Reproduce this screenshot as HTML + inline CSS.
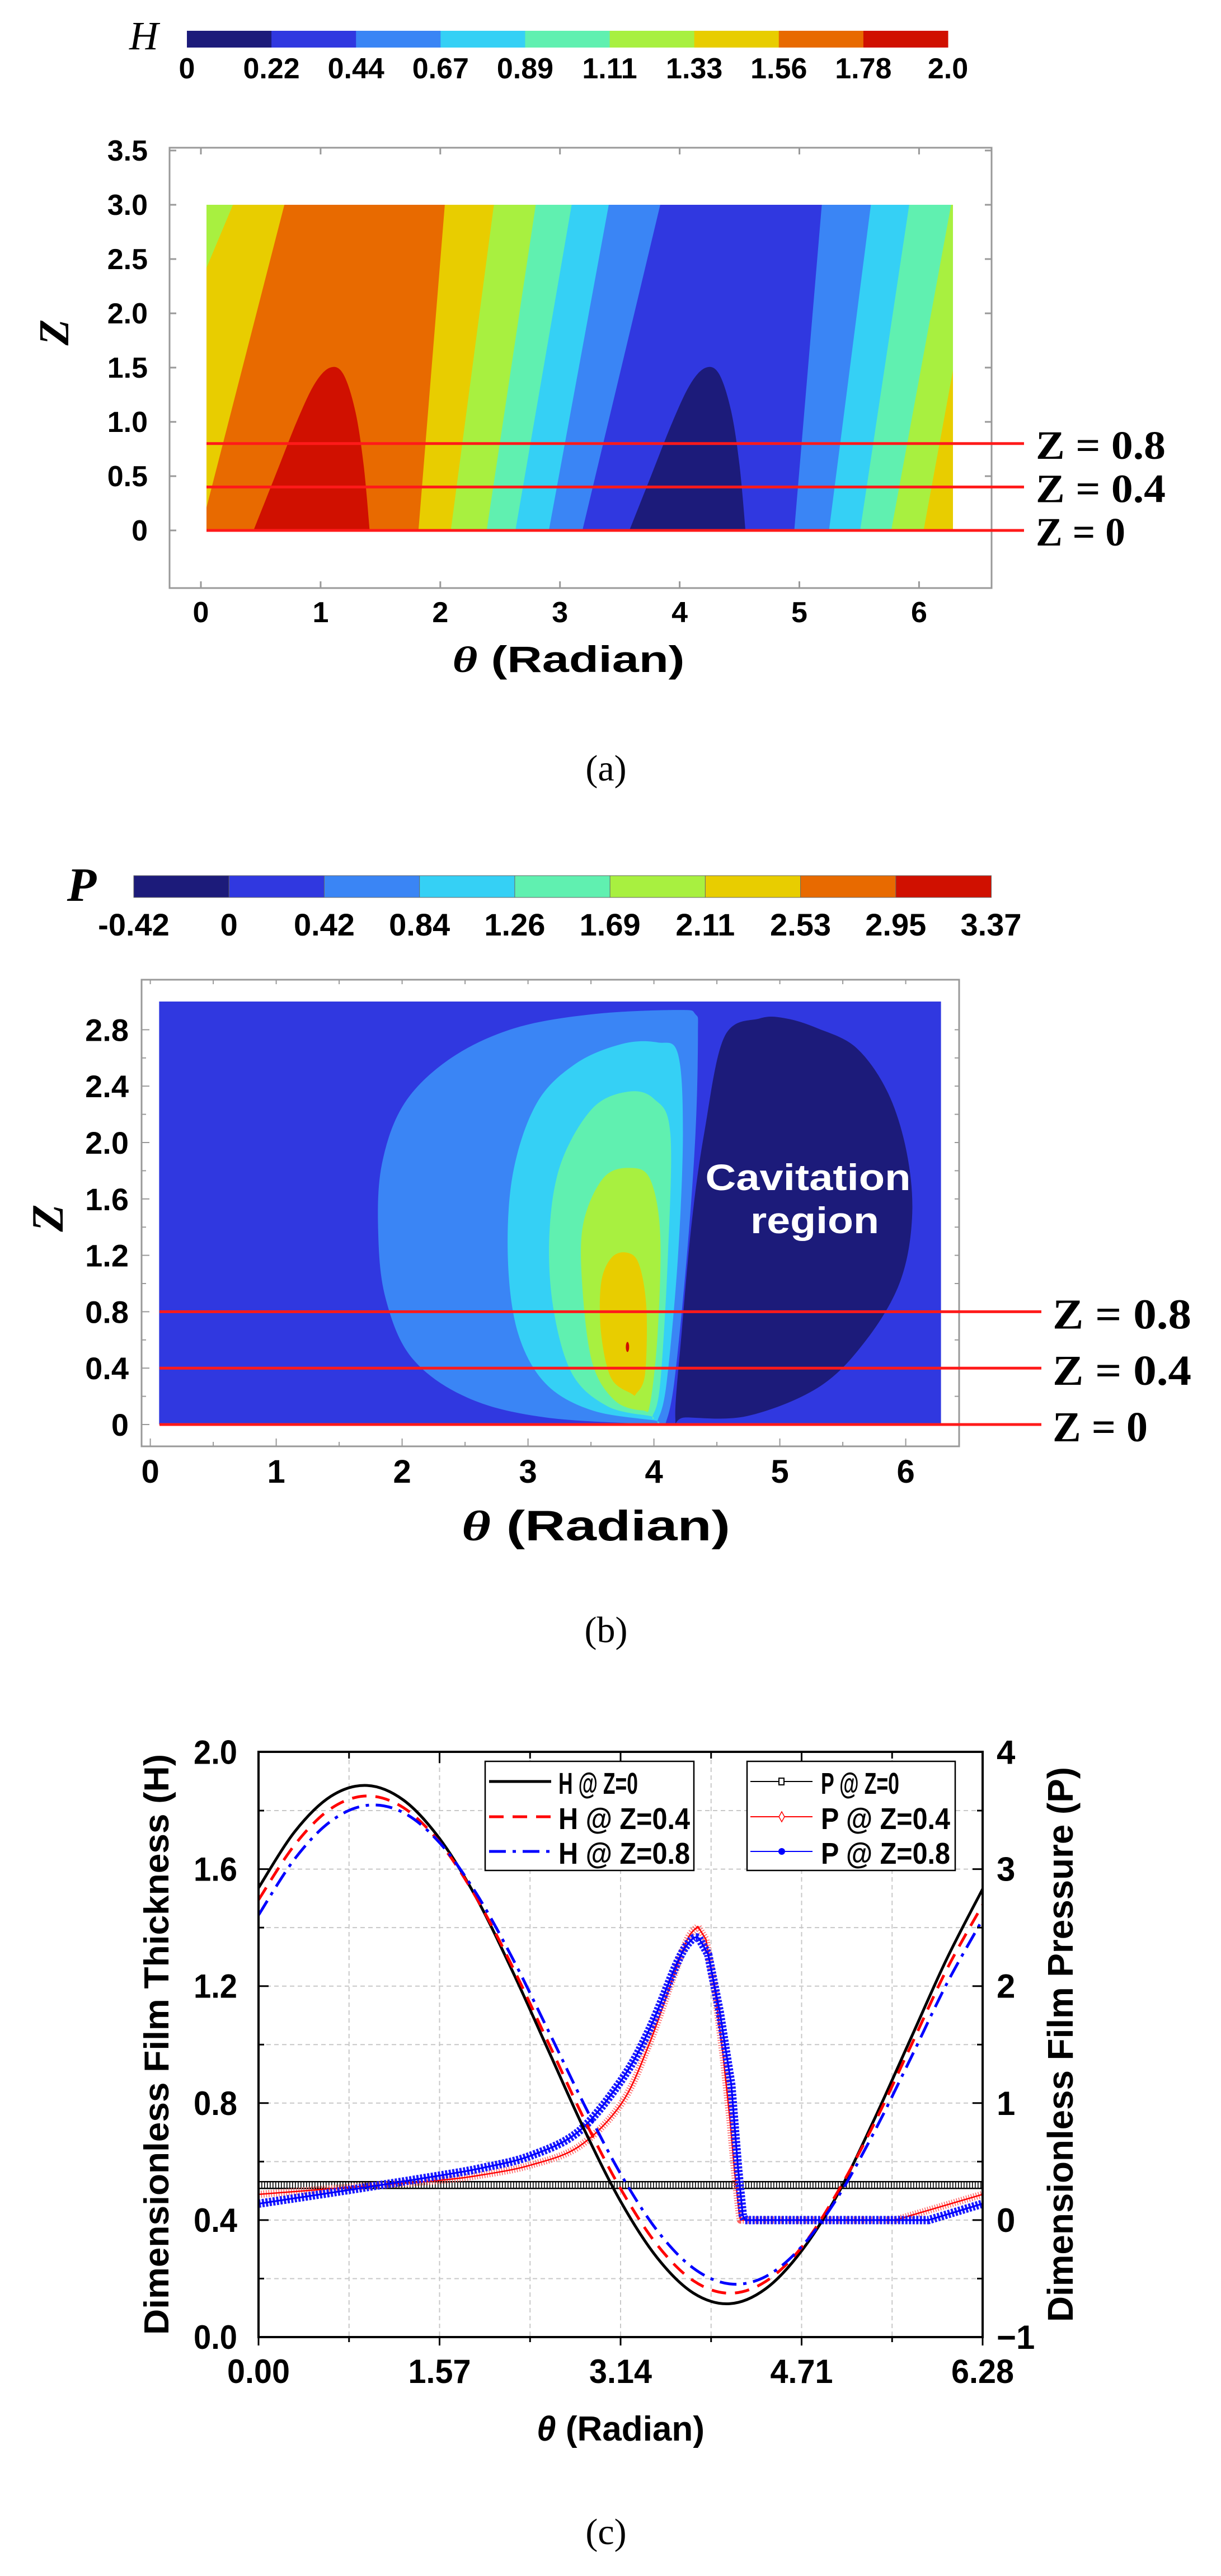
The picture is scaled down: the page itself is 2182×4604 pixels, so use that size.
<!DOCTYPE html>
<html><head><meta charset="utf-8">
<style>
html,body{margin:0;padding:0;background:#fff;}
svg{display:block;}
.tk{font-family:"Liberation Sans",sans-serif;font-weight:bold;fill:#000;}
.sr{font-family:"Liberation Serif",serif;fill:#000;}
</style></head>
<body>
<svg id="fig" xmlns="http://www.w3.org/2000/svg" width="2182" height="4604" viewBox="0 0 2182 4604">
<defs>
<clipPath id="clipA"><rect x="369" y="366" width="1334" height="583"/></clipPath>
<clipPath id="clipB"><rect x="284" y="1790" width="1399" height="756"/></clipPath>
<clipPath id="clipC"><rect x="462" y="3131" width="1294" height="1046"/></clipPath>
</defs>

<!-- ===== (a) ===== -->
<g id="panelA">
<text x="257" y="88" class="sr" font-size="72" font-style="italic" text-anchor="middle">H</text>
<g id="cbarA"></g>
<rect x="303" y="264" width="1469" height="787" fill="none" stroke="#999" stroke-width="3"/>
<g id="contA" clip-path="url(#clipA)"></g>
<g id="axA"></g>
<text x="1016" y="1201" class="tk" font-size="66" text-anchor="middle" textLength="415" lengthAdjust="spacingAndGlyphs"><tspan font-family="Liberation Serif" font-style="italic">θ</tspan> (Radian)</text>
<text transform="translate(122,594) rotate(-90)" class="sr" font-size="76" font-weight="bold" font-style="italic" text-anchor="middle">Z</text>
<text x="1083" y="1395" class="sr" font-size="66" text-anchor="middle">(a)</text>
</g>

<!-- ===== (b) ===== -->
<g id="panelB">
<text x="146" y="1610" class="sr" font-size="86" font-weight="bold" font-style="italic" text-anchor="middle">P</text>
<g id="cbarB"></g>
<rect x="253" y="1751" width="1461" height="834" fill="none" stroke="#999" stroke-width="3"/>
<g id="contB" clip-path="url(#clipB)"></g>
<text x="1444" y="2127" class="tk" font-size="66" text-anchor="middle" textLength="367" lengthAdjust="spacingAndGlyphs" style="fill:#fff">Cavitation</text>
<text x="1456" y="2204" class="tk" font-size="66" text-anchor="middle" textLength="230" lengthAdjust="spacingAndGlyphs" style="fill:#fff">region</text>
<g id="axB"></g>
<text x="1065" y="2753" class="tk" font-size="76" text-anchor="middle" textLength="480" lengthAdjust="spacingAndGlyphs"><tspan font-family="Liberation Serif" font-style="italic">θ</tspan> (Radian)</text>
<text transform="translate(112,2177) rotate(-90)" class="sr" font-size="80" font-weight="bold" font-style="italic" text-anchor="middle">Z</text>
<text x="1083" y="2935" class="sr" font-size="66" text-anchor="middle">(b)</text>
</g>

<!-- ===== (c) ===== -->
<g id="panelC">
<g id="gridC"></g>
<g id="seriesC" clip-path="url(#clipC)"></g>
<g id="axC"></g>
<g id="legC"></g>
<text x="1109" y="4362" class="tk" font-size="62" text-anchor="middle" textLength="300" lengthAdjust="spacingAndGlyphs"><tspan font-style="italic">θ</tspan> (Radian)</text>
<text transform="translate(301,3654) rotate(-90)" class="tk" font-size="62" text-anchor="middle" textLength="1038" lengthAdjust="spacingAndGlyphs">Dimensionless Film Thickness (H)</text>
<text transform="translate(1917,3654) rotate(-90)" class="tk" font-size="64" text-anchor="middle" textLength="992" lengthAdjust="spacingAndGlyphs">Dimensionless Film Pressure (P)</text>
<text x="1083" y="4547" class="sr" font-size="66" text-anchor="middle">(c)</text>
</g>
</svg>

<script>
// ---------- data ----------
const palette = ["#1c1b7a","#3038e0","#3a85f5","#35d0f5","#60f0b0","#a8f040","#e8cd00","#e86a00","#d01000"];
const hLevels = ["0","0.22","0.44","0.67","0.89","1.11","1.33","1.56","1.78","2.0"];
const pLevels = ["-0.42","0","0.42","0.84","1.26","1.69","2.11","2.53","2.95","3.37"];
const hBoundBottom = [-0.87, 0.00, 1.82, 2.09, 2.39, 2.63, 2.91, 3.19, 4.96, 5.25, 5.51, 5.77, 6.04];
const hBoundTop    = [ 0.27, 0.70, 2.04, 2.45, 2.80, 3.10, 3.41, 3.84, 5.19, 5.60, 5.92, 6.27, 6.54];
const hBandColorIdx = [5,6,7,6,5,4,3,2,1,2,3,4,5,6];
const hMaxLobe = [[0.44,0],[0.62,0.5],[0.8,1.0],[0.95,1.35],[1.08,1.5],[1.19,1.44],[1.29,1.1],[1.36,0.6],[1.41,0]];
const hMinLobe = [[3.58,0],[3.76,0.5],[3.94,1.0],[4.09,1.35],[4.22,1.5],[4.33,1.44],[4.43,1.1],[4.50,0.6],[4.55,0]];
const zLines = [0.8, 0.4, 0];
const zLineLabels = ["Z = 0.8","Z = 0.4","Z = 0"];
const pLightBlue = [[4.06,0],[3.14,0.05],[2.52,0.19],[2.08,0.47],[1.87,0.89],[1.81,1.36],[1.84,1.85],[2.02,2.28],[2.39,2.60],[2.89,2.81],[3.51,2.91],[4.19,2.94],[4.33,2.91],[4.35,2.77],[4.33,2.06],[4.26,1.18],[4.16,0.29],[4.09,0]];
const pCyan = [[4.00,0.03],[3.51,0.10],[3.14,0.29],[2.92,0.65],[2.84,1.18],[2.88,1.78],[3.07,2.28],[3.38,2.56],[3.75,2.70],[4.03,2.71],[4.19,2.63],[4.23,2.07],[4.19,1.18],[4.10,0.29],[4.03,0.03]];
const pGreen = [[3.97,0.06],[3.63,0.13],[3.35,0.36],[3.20,0.83],[3.17,1.36],[3.26,1.85],[3.51,2.24],[3.79,2.36],[4.00,2.31],[4.13,2.07],[4.11,1.18],[4.05,0.29],[3.99,0.06]];
const pYellowGreen = [[3.91,0.10],[3.69,0.17],[3.51,0.44],[3.43,1.00],[3.44,1.43],[3.60,1.75],[3.81,1.82],[3.97,1.74],[4.05,1.35],[4.03,0.65],[3.97,0.15]];
const pYellow = [[3.82,0.22],[3.66,0.33],[3.58,0.65],[3.58,1.00],[3.66,1.18],[3.78,1.22],[3.88,1.14],[3.94,0.83],[3.93,0.36],[3.86,0.22]];
const pCavitation = [[4.17,0.05],[4.22,0.65],[4.30,1.43],[4.40,2.07],[4.56,2.75],[4.84,2.88],[5.05,2.88],[5.30,2.81],[5.61,2.67],[5.86,2.35],[6.01,1.92],[6.05,1.46],[5.95,1.00],[5.67,0.58],[5.30,0.26],[4.74,0.06],[4.25,0.05]];
const thetaH = [0,0.314,0.628,0.942,1.257,1.571,1.885,2.199,2.513,2.827,3.142,3.456,3.770,4.084,4.398,4.712,5.027,5.341,5.655,5.969,6.283];
const hZ0  = [1.536,1.728,1.849,1.886,1.836,1.704,1.505,1.254,0.981,0.708,0.463,0.272,0.151,0.114,0.165,0.296,0.491,0.745,1.019,1.293,1.534];
const hZ04 = [1.495,1.683,1.807,1.850,1.810,1.691,1.505,1.269,1.007,0.743,0.506,0.316,0.193,0.150,0.190,0.308,0.499,0.731,0.993,1.257,1.480];
const hZ08 = [1.443,1.635,1.764,1.818,1.793,1.690,1.519,1.298,1.048,0.793,0.557,0.365,0.236,0.182,0.207,0.310,0.480,0.702,0.952,1.208,1.430];
const thetaP0 = [0, 6.28];
const pZ0 = [0.30, 0.30];
const thetaP04 = [0,0.785,1.57,1.96,2.36,2.78,3.15,3.39,3.59,3.72,3.81,3.88,3.96,4.03,4.09,4.13,4.17,4.18,5.52,6.28];
const pZ04 = [0.22,0.28,0.34,0.39,0.47,0.63,1.00,1.51,2.06,2.40,2.51,2.40,1.95,1.40,0.85,0.40,0.05,0,0,0.22];
const thetaP08 = [0,0.67,1.57,1.96,2.36,2.78,3.15,3.39,3.64,3.76,3.82,3.9,4.0,4.1,4.16,4.2,4.22,5.81,6.28];
const pZ08 = [0.14,0.24,0.38,0.45,0.55,0.76,1.20,1.63,2.22,2.40,2.41,2.27,1.78,1.16,0.43,0.04,0,0,0.14];
const xTicksC = ["0.00","1.57","3.14","4.71","6.28"];
const hTicksC = ["0.0","0.4","0.8","1.2","1.6","2.0"];
const pTicksC = ["\u22121","0","1","2","3","4"];

// ---------- helpers ----------
const NS = "http://www.w3.org/2000/svg";
function mk(tag, attrs, parent){ const e=document.createElementNS(NS,tag); for(const k in attrs) e.setAttribute(k,attrs[k]); parent.appendChild(e); return e; }
function txt(s, attrs, parent){ const e=mk("text",attrs,parent); e.textContent=s; return e; }
function smooth(pts, closed){
  const n=pts.length; let d="M"+pts[0][0].toFixed(1)+","+pts[0][1].toFixed(1);
  const last = closed? n : n-1;
  for(let i=0;i<last;i++){
    const p0=pts[(i-1+n)%n], p1=pts[i], p2=pts[(i+1)%n], p3=pts[(i+2)%n];
    const a0 = (!closed && i===0)? p1 : p0;
    const a3 = (!closed && i===n-2)? p2 : p3;
    const c1=[p1[0]+(p2[0]-a0[0])/6, p1[1]+(p2[1]-a0[1])/6];
    const c2=[p2[0]-(a3[0]-p1[0])/6, p2[1]-(a3[1]-p1[1])/6];
    d+=" C"+c1[0].toFixed(1)+","+c1[1].toFixed(1)+" "+c2[0].toFixed(1)+","+c2[1].toFixed(1)+" "+p2[0].toFixed(1)+","+p2[1].toFixed(1);
  }
  return d+(closed?" Z":"");
}
function poly(pts){ return "M"+pts.map(p=>p[0].toFixed(1)+","+p[1].toFixed(1)).join(" L")+" Z"; }
function smoothThenLine(pts){
  let im=0; pts.forEach((p,i)=>{ if(p[1]<pts[im][1]) im=i; });
  let d=smooth(pts.slice(0,im+1),false);
  for(let i=im+1;i<pts.length;i++) d+=" L"+pts[i][0].toFixed(1)+","+pts[i][1].toFixed(1);
  return d;
}

// ---------- (a) ----------
const xA = t => 359 + 213.9*t;
const yA = z => 948 - 194*z;
(function(){
  const cb=document.getElementById("cbarA");
  const x0=334, w=(1694-334)/9;
  palette.forEach((c,i)=>{
    const r=mk("rect",{x:x0+i*w,y:55,width:w+0.5,height:30,fill:c},cb);
    
    
  });
  hLevels.forEach((s,i)=>{
    const t=txt(s,{x:x0+i*w,y:140,"text-anchor":"middle","font-size":52,class:"tk"},cb);
    
    
  });
  const g=document.getElementById("contA");
  const ext=[-3].concat(hBoundBottom), extT=[-3].concat(hBoundTop);
  ext.push(9); extT.push(9);
  hBandColorIdx.forEach((ci,i)=>{
    const pts=[[xA(ext[i]),yA(0)],[xA(ext[i+1]),yA(0)],[xA(extT[i+1]),yA(3)],[xA(extT[i]),yA(3)]];
    const p=mk("path",{d:poly(pts),fill:palette[ci],stroke:palette[ci],"stroke-width":1},g);
    
    
  });
  const l1=mk("path",{d:smooth(hMaxLobe.map(p=>[xA(p[0]),yA(p[1])]),false)+" Z",fill:palette[8]},g);
  
  
  const l2=mk("path",{d:smooth(hMinLobe.map(p=>[xA(p[0]),yA(p[1])]),false)+" Z",fill:palette[0]},g);
  
  
  const ax=document.getElementById("axA");
  for(let z=0;z<=3.5;z+=0.5){
    const t=txt(z===0?"0":z.toFixed(1),{x:264,y:yA(z)+18,"text-anchor":"end","font-size":52,class:"tk"},ax);
    
    
    const tk=mk("line",{x1:303,x2:315,y1:yA(z),y2:yA(z),stroke:"#999","stroke-width":3},ax);
    
    
    const tk2=mk("line",{x1:1760,x2:1772,y1:yA(z),y2:yA(z),stroke:"#999","stroke-width":3},ax);
    
    
  }
  for(let k=0;k<=6;k++){
    const t=txt(String(k),{x:xA(k),y:1112,"text-anchor":"middle","font-size":52,class:"tk"},ax);
    
    
    const tk=mk("line",{x1:xA(k),x2:xA(k),y1:1039,y2:1051,stroke:"#999","stroke-width":3},ax);
    
    
    const tk2=mk("line",{x1:xA(k),x2:xA(k),y1:264,y2:276,stroke:"#999","stroke-width":3},ax);
    
    
  }
  zLines.forEach((z,i)=>{
    const l=mk("line",{x1:369,x2:1830,y1:yA(z),y2:yA(z),stroke:"#ff1a1a","stroke-width":5},ax);
    
    
    const t=txt(zLineLabels[i],{x:1851,y:yA(z)+27,"font-size":72,"font-weight":"bold",class:"sr",textLength:z===0?160:232,lengthAdjust:"spacingAndGlyphs"},ax);
    
    
  });
})();

// ---------- (b) ----------
const xB = t => 268.6 + 225*t;
const yB = z => 2546 - 252*z;
(function(){
  const cb=document.getElementById("cbarB");
  const x0=239, w=(1771-239)/9;
  palette.forEach((c,i)=>{
    const r=mk("rect",{x:x0+i*w,y:1565,width:w+0.5,height:39,fill:c,stroke:"#666","stroke-width":1},cb);
    
    
  });
  pLevels.forEach((s,i)=>{
    const t=txt(s,{x:x0+i*w,y:1672,"text-anchor":"middle","font-size":56,class:"tk"},cb);
    
    
  });
  const g=document.getElementById("contB");
  const bg=mk("rect",{x:xB(0.07),y:yB(3),width:xB(6.28)-xB(0.07),height:yB(0)-yB(3),fill:palette[1]},g);
  
  
  [[pLightBlue,2],[pCyan,3],[pGreen,4],[pYellowGreen,5],[pYellow,6]].forEach(([arr,ci])=>{
    const p=mk("path",{d:smooth(arr.map(q=>[xB(q[0]),yB(q[1])]),true),fill:palette[ci]},g);
    
    
  });
  const pk=mk("ellipse",{cx:xB(3.79),cy:yB(0.55),rx:3,ry:9,fill:palette[8]},g);
  
  
  const cav=mk("path",{d:smooth(pCavitation.map(q=>[xB(q[0]),yB(q[1])]),true),fill:palette[0]},g);
  
  
  const ax=document.getElementById("axB");
  for(let k=0;k<=14;k++){
    const z=k*0.2;
    const tk=mk("line",{x1:253,x2:k%2?261:267,y1:yB(z),y2:yB(z),stroke:"#999","stroke-width":2},ax);
    
    
    const tk2=mk("line",{x1:1714,x2:1706,y1:yB(z),y2:yB(z),stroke:"#999","stroke-width":2},ax);
    
    
    if(k%2===0){
      const t=txt(k===0?"0":z.toFixed(1),{x:230,y:yB(z)+20,"text-anchor":"end","font-size":56,class:"tk"},ax);
      
      
    }
  }
  for(let k=0;k<=12;k++){
    const t0=k*0.5;
    const tk=mk("line",{x1:xB(t0),x2:xB(t0),y1:2585,y2:k%2?2577:2571,stroke:"#999","stroke-width":2},ax);
    
    
    const tk2=mk("line",{x1:xB(t0),x2:xB(t0),y1:1751,y2:1759,stroke:"#999","stroke-width":2},ax);
    
    
    if(k%2===0){
      const t=txt(String(k/2),{x:xB(t0),y:2650,"text-anchor":"middle","font-size":58,class:"tk"},ax);
      
      
    }
  }
  zLines.forEach((z,i)=>{
    const l=mk("line",{x1:285,x2:1861,y1:yB(z),y2:yB(z),stroke:"#ff1a1a","stroke-width":5},ax);
    
    
    const t=txt(zLineLabels[i],{x:1881,y:yB(z)+30,"font-size":76,"font-weight":"bold",class:"sr",textLength:z===0?170:248,lengthAdjust:"spacingAndGlyphs"},ax);
    
    
  });
})();

// ---------- (c) ----------
const xC = t => 462 + 206.05*t;
const yH = h => 4177 - 522.75*h;
const yP = p => 4177 - (p+1)*209.1;
(function(){
  const gg=document.getElementById("gridC");
  for(let k=1;k<10;k++){
    const l=mk("line",{x1:462,x2:1756,y1:yH(k*0.2),y2:yH(k*0.2),stroke:"#c8c8c8","stroke-width":2,"stroke-dasharray":"8 6"},gg);
    
    
  }
  for(let k=1;k<8;k++){
    const x=xC(k*0.785);
    const l=mk("line",{x1:x,x2:x,y1:3131,y2:4177,stroke:"#c8c8c8","stroke-width":2,"stroke-dasharray":"8 6"},gg);
    
    
  }
  const s=document.getElementById("seriesC");
  const p0pts=thetaP0.map((t,i)=>[xC(t),yP(pZ0[i])]);
  const p0d=poly(p0pts).replace(" Z","");
  const p0a=mk("path",{d:p0d,fill:"none",stroke:"#000","stroke-width":13,"stroke-dasharray":"1.6 3.4"},s);
  
  
  [-6,6].forEach(off=>{
    const e=mk("path",{d:p0d,fill:"none",stroke:"#000","stroke-width":2.5,transform:"translate(0,"+off+")"},s);
    
    
  });
  const p04d=smoothThenLine(thetaP04.map((t,i)=>[xC(t),yP(pZ04[i])]));
  const r1=mk("path",{d:p04d,fill:"none",stroke:"#ff6060","stroke-width":13,"stroke-dasharray":"1.5 3","stroke-linejoin":"round"},s);
  
  
  const r2=mk("path",{d:p04d,fill:"none",stroke:"#ff0000","stroke-width":2.5,"stroke-linejoin":"round"},s);
  
  
  const p08d=smoothThenLine(thetaP08.map((t,i)=>[xC(t),yP(pZ08[i])]));
  const b1=mk("path",{d:p08d,fill:"none",stroke:"#1a1aff","stroke-width":15,"stroke-dasharray":"4 2.5","stroke-linejoin":"round"},s);
  
  
  const b2=mk("path",{d:p08d,fill:"none",stroke:"#0000ff","stroke-width":3,"stroke-linejoin":"round"},s);
  
  
  const h0=mk("path",{d:smooth(thetaH.map((t,i)=>[xC(t),yH(hZ0[i])]),false),fill:"none",stroke:"#000","stroke-width":5},s);
  
  
  const h4=mk("path",{d:smooth(thetaH.map((t,i)=>[xC(t),yH(hZ04[i])]),false),fill:"none",stroke:"#ff0000","stroke-width":5,"stroke-dasharray":"26 16"},s);
  
  
  const h8=mk("path",{d:smooth(thetaH.map((t,i)=>[xC(t),yH(hZ08[i])]),false),fill:"none",stroke:"#0000ff","stroke-width":5,"stroke-dasharray":"30 12 6 12"},s);
  
  
  const ax=document.getElementById("axC");
  const fr=mk("rect",{x:462,y:3131,width:1294,height:1046,fill:"none",stroke:"#000","stroke-width":4},ax);
  
  
  for(let k=0;k<=10;k++){
    const y=yH(k*0.2), maj=k%2===0;
    const tk=mk("line",{x1:462,x2:maj?480:472,y1:y,y2:y,stroke:"#000","stroke-width":3},ax);
    
    
  }
  hTicksC.forEach((s2,i)=>{
    const t=txt(s2,{x:424,y:yH(i*0.4)+21,"text-anchor":"end","font-size":60,class:"tk",textLength:78,lengthAdjust:"spacingAndGlyphs"},ax);
    
    
  });
  for(let k=0;k<=10;k++){
    const p=-1+k*0.5, maj=k%2===0;
    const tk=mk("line",{x1:1756,x2:maj?1738:1746,y1:yP(p),y2:yP(p),stroke:"#000","stroke-width":3},ax);
    
    
  }
  pTicksC.forEach((s2,i)=>{
    const t=txt(s2,{x:1781,y:yP(i-1)+21,"font-size":60,class:"tk"},ax);
    
    
  });
  for(let k=0;k<=8;k++){
    const x=xC(k*0.785), maj=k%2===0;
    const tk=mk("line",{x1:x,x2:x,y1:4177,y2:maj?4192:4186,stroke:"#000","stroke-width":3},ax);
    
    
    const tk2=mk("line",{x1:x,x2:x,y1:3131,y2:maj?3151:3143,stroke:"#000","stroke-width":3},ax);
    
    
  }
  xTicksC.forEach((s2,i)=>{
    const t=txt(s2,{x:xC(i*1.57),y:4259,"text-anchor":"middle","font-size":60,class:"tk",textLength:112,lengthAdjust:"spacingAndGlyphs"},ax);
    
    
  });
  const lg=document.getElementById("legC");
  const b1x=mk("rect",{x:867,y:3148,width:373,height:195,fill:"#fff",stroke:"#000","stroke-width":2.5},lg);
  
  
  const b2x=mk("rect",{x:1335,y:3148,width:372,height:195,fill:"#fff",stroke:"#000","stroke-width":2.5},lg);
  
  
  const rows=[3184,3247,3309];
  const hLab=["H @ Z=0","H @ Z=0.4","H @ Z=0.8"], pLab=["P @ Z=0","P @ Z=0.4","P @ Z=0.8"];
  const hSty=[{stroke:"#000"},{stroke:"#ff0000","stroke-dasharray":"26 16"},{stroke:"#0000ff","stroke-dasharray":"30 12 6 12"}];
  const pCol=["#000","#ff0000","#0000ff"];
  rows.forEach((y,i)=>{
    const a=Object.assign({x1:874,x2:985,y1:y,y2:y,"stroke-width":5},hSty[i]);
    const l=mk("line",a,lg);
    
    
    const t=txt(hLab[i],{x:998,y:y+22,"font-size":54,class:"tk",textLength:i===0?142:235,lengthAdjust:"spacingAndGlyphs"},lg);
    
    
    const l2=mk("line",{x1:1341,x2:1452,y1:y,y2:y,stroke:pCol[i],"stroke-width":2},lg);
    
    
    let m;
    if(i===0) m=mk("rect",{x:1392,y:y-6,width:9,height:12,fill:"#fff",stroke:"#000","stroke-width":2},lg);
    else if(i===1) m=mk("path",{d:"M1397,"+(y-9)+" L1402,"+y+" L1397,"+(y+9)+" L1392,"+y+" Z",fill:"#fff",stroke:"#ff0000","stroke-width":1.5},lg);
    else m=mk("circle",{cx:1397,cy:y,r:6,fill:"#0000ff"},lg);
    
    
    const t2=txt(pLab[i],{x:1467,y:y+22,"font-size":54,class:"tk",textLength:i===0?140:231,lengthAdjust:"spacingAndGlyphs"},lg);
    
    
  });
})();
</script>
</body></html>
